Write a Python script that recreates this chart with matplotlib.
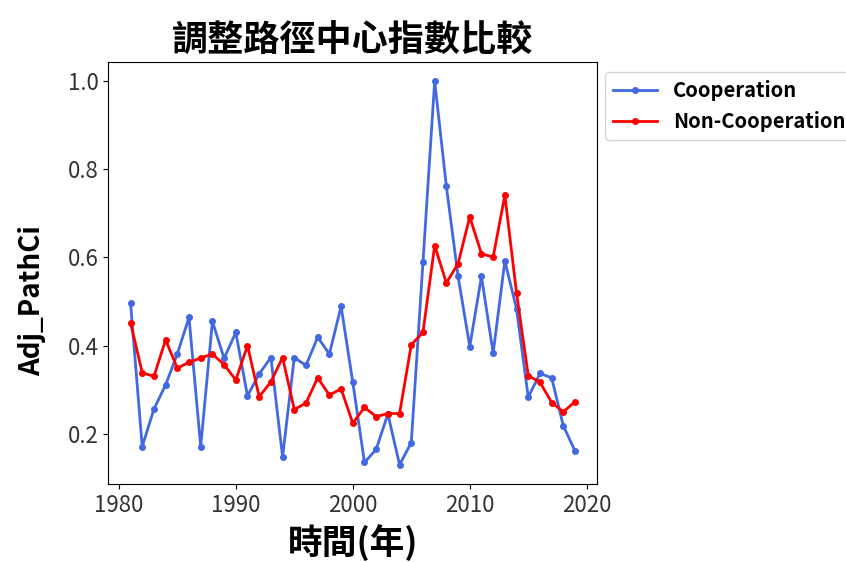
import matplotlib
matplotlib.use("Agg")
import matplotlib.pyplot as plt

plt.rcParams['font.family'] = ['Noto Sans CJK TC', 'DejaVu Sans']

years = list(range(1981, 2020))

cooperation = [0.497, 0.171, 0.256, 0.311, 0.381, 0.464, 0.171, 0.455, 0.371, 0.430,
               0.286, 0.336, 0.373, 0.148, 0.373, 0.355, 0.419, 0.381, 0.489, 0.317,
               0.135, 0.165, 0.245, 0.130, 0.180, 0.589, 1.000, 0.761, 0.557, 0.398,
               0.557, 0.383, 0.592, 0.483, 0.283, 0.337, 0.327, 0.218, 0.161]

non_cooperation = [0.452, 0.339, 0.330, 0.413, 0.349, 0.362, 0.372, 0.381, 0.357, 0.322,
                   0.400, 0.284, 0.318, 0.373, 0.255, 0.270, 0.327, 0.288, 0.302, 0.224,
                   0.260, 0.239, 0.246, 0.246, 0.402, 0.430, 0.627, 0.542, 0.586, 0.692,
                   0.608, 0.601, 0.741, 0.519, 0.332, 0.317, 0.271, 0.250, 0.273]

fig = plt.figure(figsize=(8.46, 5.62), dpi=100)
ax = fig.add_axes([0.128, 0.139, 0.578, 0.751])

ax.plot(years, cooperation, color='royalblue', marker='o', markersize=4,
        linewidth=2, label='Cooperation')
ax.plot(years, non_cooperation, color='red', marker='o', markersize=4,
        linewidth=2, label='Non-Cooperation')

ax.set_xticks([1980, 1990, 2000, 2010, 2020])
ax.set_yticks([0.2, 0.4, 0.6, 0.8, 1.0])
ax.tick_params(labelsize=16, labelcolor='#333333')

ax.set_title('調整路徑中心指數比較', fontsize=26, fontweight='bold', pad=7)
ax.set_xlabel('時間(年)', fontsize=25, fontweight='bold', labelpad=6)
ax.set_ylabel('Adj_PathCi', fontsize=20, fontweight='bold')
ax.yaxis.set_label_coords(-0.128, 0.434)

ax.legend(loc='upper left', bbox_to_anchor=(0.995, 1.0),
          prop={'weight': 'bold', 'size': 14.5}, handlelength=2.2)

fig.savefig('out.png', dpi=100)
